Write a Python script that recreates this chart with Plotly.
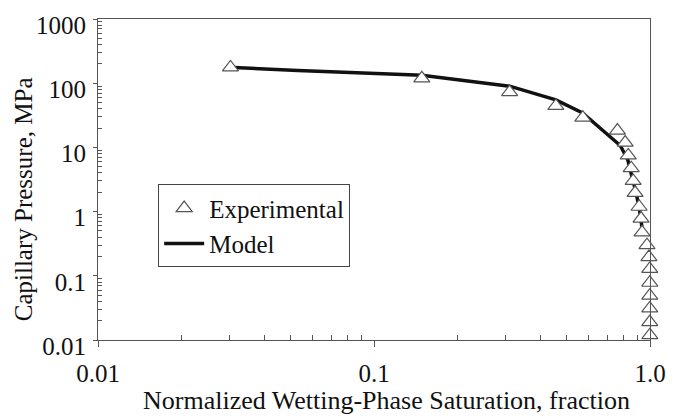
import plotly.graph_objects as go

exp_sw = [0.0302, 0.149, 0.310, 0.456, 0.571, 0.762, 0.813, 0.834, 0.855, 0.869,
          0.883, 0.913, 0.928, 0.936, 0.975, 0.991, 0.998, 0.998, 0.998, 0.998, 0.998, 0.999]
exp_pc = [176, 119, 72.7, 44.3, 29.0, 18.3, 11.9, 7.5, 4.75, 3.0,
          1.96, 1.19, 0.78, 0.475, 0.30, 0.196, 0.128, 0.078, 0.049, 0.031, 0.019, 0.0119]

# Model curve
mod_sw = [0.031, 0.053, 0.149, 0.31, 0.456, 0.57, 0.78, 0.83, 0.86, 0.89, 0.915, 0.93, 0.945]
mod_pc = [176, 158, 133, 90, 55, 34.5, 10.7, 6.5, 3.5, 2.0, 1.1, 0.7, 0.42]

x_tickvals = [0.01, 0.1, 1.0]
x_ticktext = ["0.01", "0.1", "1.0"]
y_tickvals = [0.01, 0.1, 1, 10, 100, 1000]
y_ticktext = ["0.01", "0.1", "1", "10", "100", "1000"]

FONT = "Liberation Serif"
FS = 25

minor_x = [m * 10 ** d for d in (-2, -1) for m in range(2, 10)]
minor_y = [m * 10 ** d for d in (-2, -1, 0, 1, 2) for m in range(2, 10)]

fig = go.Figure()
fig.add_trace(go.Scatter(
    x=mod_sw, y=mod_pc, mode="lines", name="Model",
    line=dict(color="#111111", width=3.5),
))
fig.add_trace(go.Scatter(
    x=exp_sw, y=exp_pc, mode="markers", name="Experimental",
    marker=dict(symbol="triangle-up", size=14, color="white",
                line=dict(color="#555555", width=1.2)),
    cliponaxis=False,
))

fig.update_layout(
    width=678, height=418,
    margin=dict(l=98, r=22, t=15, b=78),
    paper_bgcolor="white", plot_bgcolor="white",
    font=dict(family=FONT, size=FS, color="#111111"),
    showlegend=True,
    legend=dict(
        x=0.109, y=0.485, xanchor="left", yanchor="top",
        bordercolor="#444444", borderwidth=1, bgcolor="white",
        font=dict(family=FONT, size=FS, color="#111111"),
        traceorder="reversed",
        tracegroupgap=0,
        itemwidth=40,
    ),
    xaxis=dict(
        type="log", range=[-2, 0], showgrid=False, zeroline=False,
        tickmode="array", tickvals=x_tickvals, ticktext=x_ticktext,
        ticks="outside", ticklen=6, tickcolor="#555555",
        showline=True, linecolor="#555555", linewidth=1, mirror=True,
        ticklabelstandoff=5,
        minor=dict(tickmode="array", tickvals=minor_x, ticks="inside",
                   ticklen=5, tickcolor="#555555", showgrid=False),
        tickfont=dict(family=FONT, size=FS, color="#111111"),
    ),
    yaxis=dict(
        type="log", range=[-2, 3], showgrid=False, zeroline=False,
        tickmode="array", tickvals=y_tickvals, ticktext=y_ticktext,
        ticks="outside", ticklen=4, tickcolor="#555555",
        showline=True, linecolor="#555555", linewidth=1, mirror=True,
        ticklabelstandoff=2, ticklabelshift=6,
        minor=dict(tickmode="array", tickvals=minor_y, ticks="inside",
                   ticklen=4, tickcolor="#555555", showgrid=False),
        tickfont=dict(family=FONT, size=FS, color="#111111"),
    ),
    annotations=[
        dict(text="Normalized Wetting-Phase Saturation, fraction",
             xref="paper", yref="paper", x=0.523, y=-0.19,
             xanchor="center", yanchor="middle", showarrow=False,
             font=dict(family=FONT, size=26, color="#111111")),
        dict(text="Capillary Pressure, MPa", textangle=-90,
             xref="paper", yref="paper", x=-0.135, y=0.44,
             xanchor="center", yanchor="middle", showarrow=False,
             font=dict(family=FONT, size=FS, color="#111111")),
    ],
)

fig.write_html("out.html")
